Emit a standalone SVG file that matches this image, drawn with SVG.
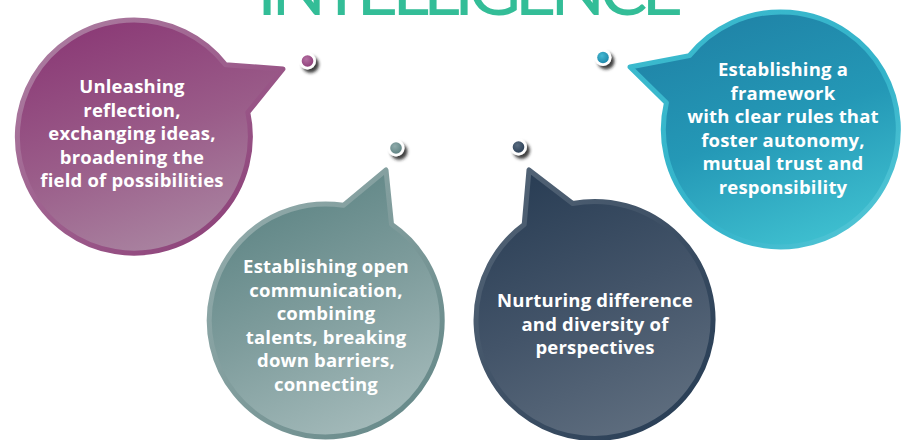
<svg xmlns="http://www.w3.org/2000/svg" width="906" height="440" viewBox="0 0 906 440">
<defs>
<linearGradient id="gPurple" x1="0.3" y1="0" x2="0.7" y2="1"><stop offset="0" stop-color="#8B3A76"/><stop offset="0.5" stop-color="#9A5C89"/><stop offset="1" stop-color="#AB88A3"/></linearGradient>
<linearGradient id="rPurple" x1="0" y1="0" x2="1" y2="1"><stop offset="0" stop-color="#AE82A4"/><stop offset="0.55" stop-color="#9B5A8A"/><stop offset="1" stop-color="#873772"/></linearGradient>
<linearGradient id="gGrey" x1="0.3" y1="0" x2="0.7" y2="1"><stop offset="0" stop-color="#5A8282"/><stop offset="0.5" stop-color="#7E9C9C"/><stop offset="1" stop-color="#A5BBBB"/></linearGradient>
<linearGradient id="rGrey" x1="0" y1="0" x2="1" y2="1"><stop offset="0" stop-color="#98B0B0"/><stop offset="0.55" stop-color="#7C9999"/><stop offset="1" stop-color="#628686"/></linearGradient>
<linearGradient id="gSlate" x1="0.3" y1="0" x2="0.7" y2="1"><stop offset="0" stop-color="#2A3E55"/><stop offset="0.5" stop-color="#435469"/><stop offset="1" stop-color="#5F6E7F"/></linearGradient>
<linearGradient id="rSlate" x1="0" y1="0" x2="1" y2="1"><stop offset="0" stop-color="#566779"/><stop offset="0.5" stop-color="#3E5065"/><stop offset="1" stop-color="#243A52"/></linearGradient>
<linearGradient id="gBlue" x1="0.3" y1="0" x2="0.7" y2="1"><stop offset="0" stop-color="#1F82A6"/><stop offset="0.5" stop-color="#2498B6"/><stop offset="1" stop-color="#3FC0D0"/></linearGradient>
<linearGradient id="rBlue" x1="0" y1="0" x2="1" y2="1"><stop offset="0" stop-color="#3CBBCE"/><stop offset="0.6" stop-color="#34B3CA"/><stop offset="1" stop-color="#5ACAD8"/></linearGradient>
<radialGradient id="dPurple" cx="0.4" cy="0.35" r="0.7"><stop offset="0" stop-color="#B46FA2"/><stop offset="1" stop-color="#8E3F79"/></radialGradient>
<radialGradient id="dGrey" cx="0.4" cy="0.35" r="0.7"><stop offset="0" stop-color="#8FAAAA"/><stop offset="1" stop-color="#5E8282"/></radialGradient>
<radialGradient id="dSlate" cx="0.4" cy="0.35" r="0.7"><stop offset="0" stop-color="#5A6C80"/><stop offset="1" stop-color="#2C4057"/></radialGradient>
<radialGradient id="dBlue" cx="0.4" cy="0.35" r="0.7"><stop offset="0" stop-color="#45B9D2"/><stop offset="1" stop-color="#1D86A9"/></radialGradient>
<filter id="sh" x="-60%" y="-60%" width="240%" height="240%"><feDropShadow dx="3" dy="3.5" stdDeviation="1.8" flood-color="#222" flood-opacity="0.85"/></filter>
</defs>
<style>
.title{font-family:"Lato","DejaVu Sans",sans-serif;font-size:72px;fill:#33BD97;}
.lbl{font-family:"Open Sans","Noto Sans",sans-serif;font-weight:bold;font-size:18.5px;letter-spacing:0.2px;fill:#FFFFFF;text-anchor:middle;}
.bub{stroke-width:5;stroke-linejoin:round;}
.ring{fill:#FFFFFF;}
</style>
<text class="title" x="257" y="15" textLength="426" lengthAdjust="spacing">INTELLIGENCE</text>
<g id="connectors"></g>
<g id="node-reflection">
<path class="bub" fill="url(#gPurple)" stroke="url(#rPurple)" d="M 225.6 64.8 L 283 69 L 247.8 112.3 A 116.5 116.5 0 1 1 225.6 64.8 Z"/>
<circle class="ring" cx="307.5" cy="61" r="8.5" filter="url(#sh)"/>
<circle cx="307.5" cy="61" r="5.8" fill="url(#dPurple)"/>
<text class="lbl" x="132" y="93">Unleashing</text>
<text class="lbl" x="132" y="116.5">reflection,</text>
<text class="lbl" x="132" y="140">exchanging ideas,</text>
<text class="lbl" x="132" y="163.5">broadening the</text>
<text class="lbl" x="132" y="187">field of possibilities</text>
</g>
<g id="node-communication">
<path class="bub" fill="url(#gGrey)" stroke="url(#rGrey)" d="M 343.4 205.3 L 386 170 L 391.5 224.3 A 116.5 116.5 0 1 1 343.4 205.3 Z"/>
<circle class="ring" cx="396" cy="148" r="8.5" filter="url(#sh)"/>
<circle cx="396" cy="148" r="5.8" fill="url(#dGrey)"/>
<text class="lbl" x="326" y="273">Establishing open</text>
<text class="lbl" x="326" y="296.5">communication,</text>
<text class="lbl" x="326" y="320">combining</text>
<text class="lbl" x="326" y="343.5">talents, breaking</text>
<text class="lbl" x="326" y="367">down barriers,</text>
<text class="lbl" x="326" y="390.5">connecting</text>
</g>
<g id="node-diversity">
<path class="bub" fill="url(#gSlate)" stroke="url(#rSlate)" d="M 572.7 203.5 L 529 170 L 524.2 224.6 A 118.5 118.5 0 1 0 572.7 203.5 Z"/>
<circle class="ring" cx="518.5" cy="147" r="8.5" filter="url(#sh)"/>
<circle cx="518.5" cy="147" r="5.8" fill="url(#dSlate)"/>
<text class="lbl" x="595" y="307">Nurturing difference</text>
<text class="lbl" x="595" y="330.5">and diversity of</text>
<text class="lbl" x="595" y="354">perspectives</text>
</g>
<g id="node-framework">
<path class="bub" fill="url(#gBlue)" stroke="url(#rBlue)" d="M 689.4 55.6 L 630 67 L 666.4 102.7 A 117.5 117.5 0 1 0 689.4 55.6 Z"/>
<circle class="ring" cx="603" cy="57.5" r="8.5" filter="url(#sh)"/>
<circle cx="603" cy="57.5" r="5.8" fill="url(#dBlue)"/>
<text class="lbl" x="783" y="76">Establishing a</text>
<text class="lbl" x="783" y="99.5">framework</text>
<text class="lbl" x="783" y="123">with clear rules that</text>
<text class="lbl" x="783" y="146.5">foster autonomy,</text>
<text class="lbl" x="783" y="170">mutual trust and</text>
<text class="lbl" x="783" y="193.5">responsibility</text>
</g>
</svg>
